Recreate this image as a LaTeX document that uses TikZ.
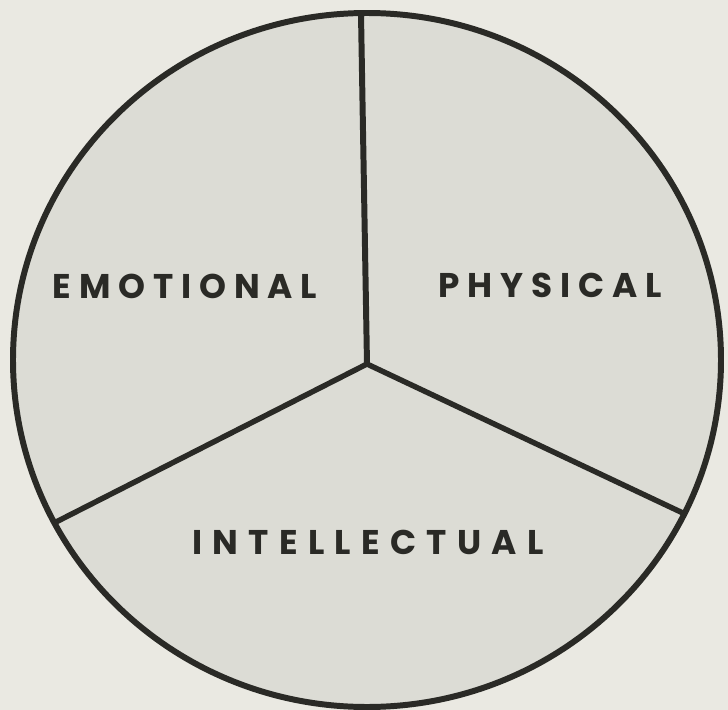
\documentclass[tikz,border=0pt]{standalone}
\usepackage{fontspec}
\setmainfont{Poppins}
\usepackage{xcolor}
\usetikzlibrary{positioning}
\definecolor{paper}{HTML}{EAE9E2}
\definecolor{disc}{HTML}{DCDCD5}
\definecolor{ink}{HTML}{2A2A26}

\begin{document}
\begin{tikzpicture}[x=0.02cm, y=-0.02cm, line join=round,
  sectortext/.style={font=\fontsize{19.5}{23}\selectfont\bfseries\addfontfeatures{LetterSpace=#1}, text=ink, inner sep=0pt},
  sectortext/.default=23]
\useasboundingbox[fill=paper] (0,0) rectangle (728,710);
\coordinate (hub) at (367,364);
\coordinate (rimtop) at (361,14);
\coordinate (rimleft) at (56,522);
\coordinate (rimright) at (685,514);
\fill[disc] (367,360) ellipse[x radius=354, y radius=347];
\draw[ink, line width=3.4pt] (rimtop) -- (hub);
\draw[ink, line width=3.1pt] (rimleft) -- (hub) -- (rimright);
\draw[ink, line width=3.4pt] (367,360) ellipse[x radius=354, y radius=347];
\node[sectortext] (emotional) at (185,286) {EMOTIONAL};
\node[sectortext] (physical) at (550,285) {PHYSICAL};
\node[sectortext=30] (intellectual) at (368,542) {INTELLECTUAL};
\end{tikzpicture}
\end{document}
